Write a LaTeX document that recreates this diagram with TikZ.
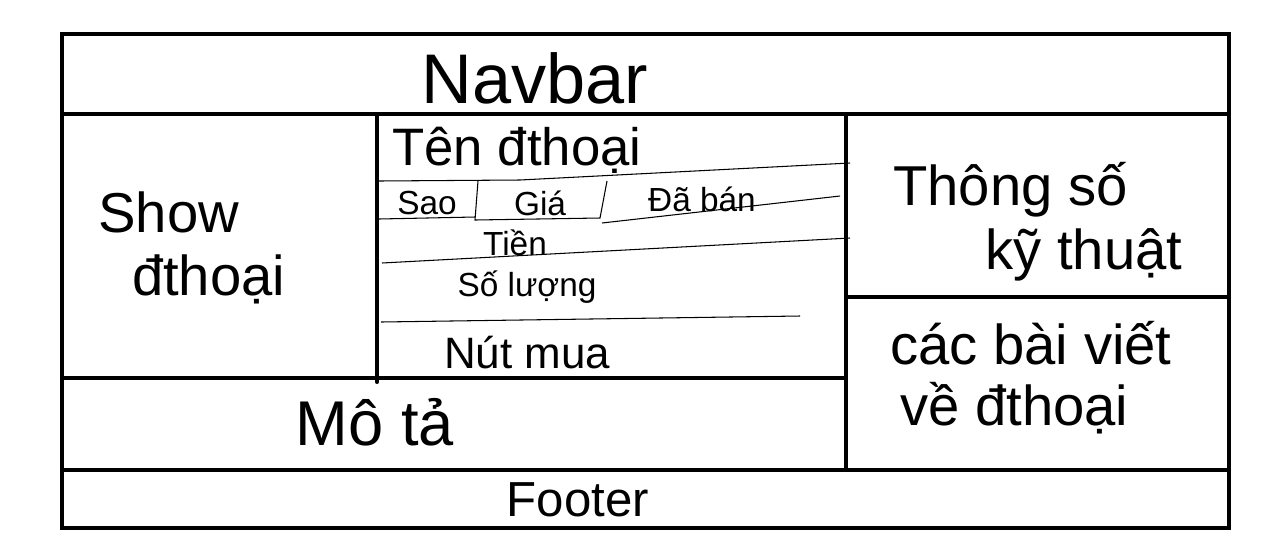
\documentclass[tikz,border=0pt]{standalone}
\usepackage{fontspec}
\setmainfont{Liberation Sans}
\usetikzlibrary{positioning}

\newcommand{\txtsize}[1]{\fontsize{#1}{#1}\selectfont}

\begin{document}
\begin{tikzpicture}[
    x=0.02cm, y=-0.02cm,
    frame/.style={line width=2.3pt, line cap=round},
    rule/.style={line width=0.6pt},
    label/.style={inner sep=0pt, align=center},
    big/.style={label, font=\fontsize{32}{38}\selectfont},
    small/.style={label, font=\txtsize{19}}
]
    \useasboundingbox (0,0) rectangle (1277,552);

    % Cadre et zones principales
    \draw[frame] (62,34) rectangle (1229,528);
    \draw[frame] (62,114) -- (1229,114);
    \draw[frame] (62,470) -- (1229,470);
    \draw[frame] (377,114) -- (377,382);
    \draw[frame] (846,114) -- (846,470);
    \draw[frame] (62,378) -- (846,378);
    \draw[frame] (846,297) -- (1229,297);

    % Lignes du bloc produit
    \draw[rule] (379,181) -- (520,180) -- (850,163);
    \draw[rule] (379,219) -- (475,217);
    \draw[rule] (478,181) -- (475,220) -- (600,218) -- (607,181);
    \draw[rule] (602,223) -- (840,196);
    \draw[rule] (382,263) -- (850,238);
    \draw[rule] (381,322) -- (800,316);

    % Textes
    \node[label, font=\txtsize{40}] (navbar) at (535,78) {Navbar};
    \node[big, align=left, anchor=west] (gallery) at (98,248) {Show\\[-2pt]\hspace{0.6em}đthoại};
    \node[label, font=\txtsize{30}] (name) at (517,150) {Tên đthoại};
    \node[small] (rating) at (427,203) {Sao};
    \node[small] (price) at (540,203) {Giá};
    \node[small] (sold) at (702,199) {Đã bán};
    \node[small] (money) at (515,243) {Tiền};
    \node[small] (qty) at (527,287) {Số lượng};
    \node[label, font=\txtsize{25}] (buy) at (527,353) {Nút mua};
    \node[big, anchor=west] (specA) at (893,190) {Thông số};
    \node[big, anchor=west] (specB) at (985,255) {kỹ thuật};
    \node[big, anchor=west] (postsA) at (890,343) {các bài viết};
    \node[big, anchor=west] (postsB) at (900,408) {về đthoại};
    \node[label, font=\txtsize{36}] (desc) at (375,422) {Mô tả};
    \node[label, font=\txtsize{28}] (footer) at (578,500) {Footer};

\end{tikzpicture}
\end{document}
